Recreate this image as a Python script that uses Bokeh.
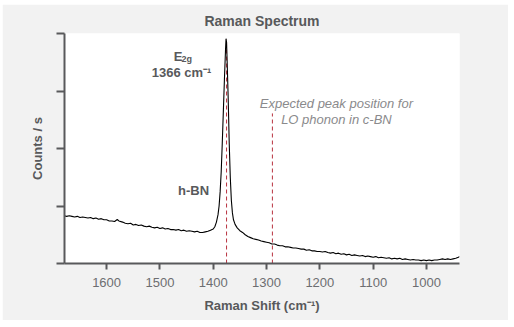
from bokeh.plotting import figure
from bokeh.models import Range1d, FixedTicker, CustomJSTickFormatter
from bokeh.core.properties import value
from bokeh.embed import file_html
from bokeh.resources import INLINE

# ---- data ----
shift = [1680, 1675, 1670, 1665, 1660, 1655, 1650, 1645, 1640, 1635, 1630, 1625, 1620, 1615,
         1610, 1605, 1600, 1595, 1590, 1585, 1580, 1577, 1570, 1565, 1560, 1555, 1550, 1545,
         1540, 1535, 1530, 1525, 1520, 1515, 1510, 1505, 1500, 1495, 1490, 1485, 1480, 1475,
         1470, 1465, 1460, 1455, 1450, 1445, 1440, 1435, 1430, 1425, 1420, 1415, 1410, 1405,
         1400, 1397, 1394, 1391, 1389, 1387, 1385, 1383, 1381, 1379, 1377, 1376, 1375, 1374,
         1372, 1370, 1368, 1366, 1364, 1362, 1359, 1355, 1350, 1345, 1340, 1335, 1330, 1325,
         1320, 1315, 1310, 1305, 1300, 1295, 1290, 1285, 1280, 1275, 1270, 1265, 1260, 1255,
         1250, 1245, 1240, 1235, 1230, 1225, 1220, 1215, 1210, 1205, 1200, 1195, 1190, 1185,
         1180, 1175, 1170, 1165, 1160, 1155, 1150, 1145, 1140, 1135, 1130, 1125, 1120, 1115,
         1110, 1105, 1100, 1095, 1090, 1085, 1080, 1075, 1070, 1065, 1060, 1055, 1050, 1045,
         1040, 1035, 1030, 1025, 1020, 1015, 1010, 1005, 1000, 995, 990, 985, 980, 975, 970,
         965, 960, 955, 950, 945, 940, 938]
counts = [0.83, 0.82, 0.83, 0.82, 0.81, 0.82, 0.80, 0.81, 0.80, 0.79, 0.80, 0.78, 0.79, 0.77,
          0.78, 0.76, 0.76, 0.74, 0.74, 0.73, 0.765, 0.74, 0.72, 0.70, 0.69, 0.70, 0.67, 0.68,
          0.66, 0.67, 0.65, 0.64, 0.65, 0.63, 0.62, 0.63, 0.61, 0.62, 0.60, 0.61, 0.59, 0.59,
          0.58, 0.59, 0.57, 0.58, 0.56, 0.57, 0.56, 0.55, 0.56, 0.54, 0.54, 0.55, 0.56, 0.58,
          0.60, 0.64, 0.72, 0.85, 1.00, 1.25, 1.60, 2.10, 2.65, 3.20, 3.70, 3.91, 3.85, 3.55,
          2.90, 2.10, 1.50, 1.10, 0.88, 0.76, 0.68, 0.62, 0.57, 0.54, 0.50, 0.47, 0.45, 0.43,
          0.42, 0.41, 0.39, 0.38, 0.37, 0.36, 0.34, 0.34, 0.32, 0.31, 0.31, 0.29, 0.29, 0.28,
          0.27, 0.27, 0.26, 0.25, 0.25, 0.23, 0.24, 0.22, 0.22, 0.21, 0.21, 0.20, 0.21, 0.19,
          0.18, 0.19, 0.17, 0.18, 0.16, 0.17, 0.15, 0.16, 0.14, 0.15, 0.14, 0.13, 0.14, 0.12,
          0.13, 0.12, 0.11, 0.12, 0.10, 0.11, 0.10, 0.09, 0.10, 0.08, 0.09, 0.08, 0.09, 0.07,
          0.08, 0.07, 0.06, 0.07, 0.06, 0.06, 0.05, 0.06, 0.05, 0.06, 0.05, 0.06, 0.06, 0.07,
          0.08, 0.07, 0.08, 0.07, 0.08, 0.09, 0.11, 0.12]

marker_x = [1375, 1289]          # h-BN peak and expected c-BN LO position
marker_top = [3.90, 2.61]
x_ticks = [1000, 1100, 1200, 1300, 1400, 1500, 1600]
y_ticks = [0, 1, 2, 3, 4]

title_text = "Raman Spectrum"
x_label = "Raman Shift (cm\u207b\u00b9)"
y_label = "Counts / s"

TEXT = "#58595b"
AXIS = "#58595b"
RED = "#b8323f"

p = figure(width=506, height=316, margin=(4, 6, 7, 2),
           x_range=Range1d(1679, 938), y_range=Range1d(0, 4),
           output_backend="svg", toolbar_location=None,
           min_border_left=62, min_border_right=49, min_border_top=29, min_border_bottom=57)
p.border_fill_color = "#f2f2f2"
p.background_fill_color = "white"
p.outline_line_color = None
p.grid.visible = False

p.title.text = title_text
p.title.align = "center"
p.title.text_font = "Liberation Sans"
p.title.text_font_size = "14px"
p.title.text_font_style = "bold"
p.title.text_color = TEXT
p.title.offset = 0

for ax in (p.xaxis, p.yaxis):
    ax.axis_line_color = AXIS
    ax.axis_line_width = 2
    ax.major_tick_line_color = AXIS
    ax.major_tick_line_width = 2
    ax.minor_tick_line_color = None
    ax.major_tick_in = 0
    ax.axis_label_text_font = "Liberation Sans"
    ax.axis_label_text_font_size = "13px"
    ax.axis_label_text_font_style = "bold"
    ax.axis_label_text_color = TEXT
    ax.major_label_text_font = "Liberation Sans"
    ax.major_label_text_color = "#6d6e71"

p.xaxis.ticker = FixedTicker(ticks=x_ticks)
p.xaxis.major_tick_out = 6
p.xaxis.major_label_text_font_size = "13px"
p.xaxis.major_label_standoff = 8
p.xaxis.axis_label = x_label
p.xaxis.axis_label_standoff = 8

p.yaxis.ticker = FixedTicker(ticks=y_ticks)
p.yaxis.formatter = CustomJSTickFormatter(code="return '';")
p.yaxis.major_tick_out = 8
p.yaxis.major_label_text_font_size = "13px"
p.yaxis.major_label_standoff = 0
p.yaxis.axis_label = y_label
p.yaxis.axis_label_standoff = 12

# dashed markers
p.segment(x0=marker_x, y0=[0, 0], x1=marker_x, y1=marker_top,
          line_color=RED, line_width=1, line_dash="4 3")

# spectrum
p.line(shift, counts, line_color="black", line_width=1.1)

# annotations
bold = dict(text_font=value("Liberation Sans"), text_font_style="bold", text_color=TEXT)
p.text(x=[1473.9], y=[3.60], text=["E"], text_font_size="13px",
       text_align="left", text_baseline="alphabetic", **bold)
p.text(x=[1459.3], y=[3.55], text=["2g"], text_font_size="9px",
       text_align="left", text_baseline="alphabetic", **bold)
p.text(x=[1459.3], y=[3.32], text=["1366 cm\u207b\u00b9"], text_font_size="13px",
       text_align="center", text_baseline="alphabetic", **bold)
p.text(x=[1436.9], y=[1.27], text=["h-BN"], text_font_size="13px",
       text_align="center", text_baseline="alphabetic", **bold)

ital = dict(text_font=value("Liberation Sans"), text_font_style="italic",
            text_color="#8a8a8c", text_font_size="13px",
            text_align="center", text_baseline="alphabetic")
p.text(x=[1168.9], y=[2.788], text=["Expected peak position for"], **ital)
p.text(x=[1168.9], y=[2.499], text=["LO phonon in c-BN"], **ital)

open("out.html", "w").write(file_html(p, INLINE))
